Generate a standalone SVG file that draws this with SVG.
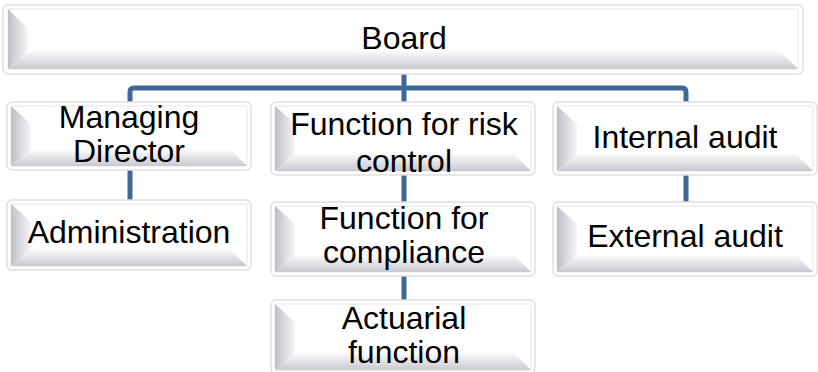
<svg xmlns="http://www.w3.org/2000/svg" width="818" height="372" viewBox="0 0 818 372">
<defs>
<linearGradient id="gl" x1="0" y1="0" x2="1" y2="0">
<stop offset="0" stop-color="#bfbfc8"/>
<stop offset="1" stop-color="#f6f6f8"/>
</linearGradient>
<linearGradient id="gb" x1="0" y1="0" x2="0" y2="1">
<stop offset="0" stop-color="#fbfbfc"/>
<stop offset="1" stop-color="#c8c8cf"/>
</linearGradient>
</defs>
<style>
.outer{fill:#ffffff;stroke:#e0e0e3;stroke-width:1.5}
.face{fill:#ffffff;stroke:#e6e6ea;stroke-width:1}
.bl{fill:url(#gl)}
.bb{fill:url(#gb)}
.conn{fill:none;stroke:#3f6899;stroke-width:5}
text{font-family:"Liberation Sans",Arial,sans-serif;font-size:32px;fill:#000;text-anchor:middle}
</style>
<rect width="818" height="372" fill="#ffffff"/>
<g id="connectors">
<path class="conn" d="M404,74 V88"/>
<path class="conn" d="M130,104 V92 Q130,88 134,88 H682 Q686,88 686,92 V104"/>
<path class="conn" d="M404,88 V104"/>
<path class="conn" d="M130,170 V200"/>
<path class="conn" d="M404,175 V202"/>
<path class="conn" d="M404,276 V300"/>
<path class="conn" d="M686,175 V202"/>
</g>
<g id="board">
<rect class="outer" x="3" y="5" width="800" height="69" rx="5"/>
<rect class="face" x="8" y="9" width="790" height="60" rx="2"/>
<polygon class="bl" points="8,9 28,29 28,51 8,69"/>
<polygon class="bb" points="8,69 28,51 780,51 798,69"/>
<text x="404" y="49">Board</text>
</g>
<g id="managing-director">
<rect class="outer" x="7" y="102" width="244" height="68" rx="5"/>
<rect class="face" x="11" y="106" width="236" height="60" rx="2"/>
<polygon class="bl" points="11,106 31,124 31,150 11,166"/>
<polygon class="bb" points="11,166 31,150 231,150 247,166"/>
<text x="129" y="128">Managing</text>
<text x="129" y="162">Director</text>
</g>
<g id="administration">
<rect class="outer" x="7" y="200" width="244" height="70" rx="5"/>
<rect class="face" x="11" y="204" width="236" height="62" rx="2"/>
<polygon class="bl" points="11,204 31,222 31,249 11,266"/>
<polygon class="bb" points="11,266 31,249 230,249 247,266"/>
<text x="129" y="243">Administration</text>
</g>
<g id="risk-control">
<rect class="outer" x="271" y="102" width="264" height="73" rx="5"/>
<rect class="face" x="275" y="106" width="256" height="65" rx="2"/>
<polygon class="bl" points="275,106 295,124 295,154 275,171"/>
<polygon class="bb" points="275,171 295,154 514,154 531,171"/>
<text x="404" y="135">Function for risk</text>
<text x="404" y="172">control</text>
</g>
<g id="compliance">
<rect class="outer" x="271" y="202" width="264" height="74" rx="5"/>
<rect class="face" x="275" y="206" width="256" height="66" rx="2"/>
<polygon class="bl" points="275,206 295,224 295,255 275,272"/>
<polygon class="bb" points="275,272 295,255 514,255 531,272"/>
<text x="404" y="229">Function for</text>
<text x="404" y="263">compliance</text>
</g>
<g id="actuarial">
<rect class="outer" x="271" y="300" width="264" height="74" rx="5"/>
<rect class="face" x="275" y="304" width="256" height="66" rx="2"/>
<polygon class="bl" points="275,304 295,322 295,353 275,370"/>
<polygon class="bb" points="275,370 295,353 514,353 531,370"/>
<text x="404" y="329">Actuarial</text>
<text x="404" y="363">function</text>
</g>
<g id="internal-audit">
<rect class="outer" x="553" y="102" width="264" height="73" rx="5"/>
<rect class="face" x="557" y="106" width="256" height="65" rx="2"/>
<polygon class="bl" points="557,106 577,124 577,154 557,171"/>
<polygon class="bb" points="557,171 577,154 796,154 813,171"/>
<text x="685" y="148">Internal audit</text>
</g>
<g id="external-audit">
<rect class="outer" x="553" y="202" width="264" height="74" rx="5"/>
<rect class="face" x="557" y="206" width="256" height="66" rx="2"/>
<polygon class="bl" points="557,206 577,224 577,255 557,272"/>
<polygon class="bb" points="557,272 577,255 796,255 813,272"/>
<text x="685" y="247">External audit</text>
</g>
</svg>
